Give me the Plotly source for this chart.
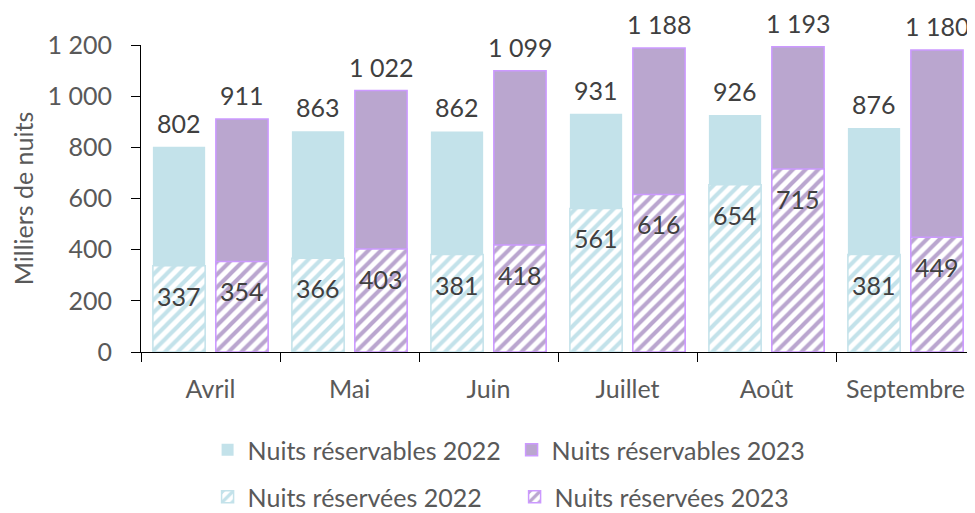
import plotly.graph_objects as go

months = ["Avril", "Mai", "Juin", "Juillet", "Août", "Septembre"]
reservables_2022 = [802, 863, 862, 931, 926, 876]
reservables_2023 = [911, 1022, 1099, 1188, 1193, 1180]
reservees_2022 = [337, 366, 381, 561, 654, 381]
reservees_2023 = [354, 403, 418, 616, 715, 449]
y_ticks = [0, 200, 400, 600, 800, 1000, 1200]
y_tick_labels = ["0", "200", "400", "600", "800", "1 000", "1 200"]

BLUE = "#C3E2EA"
PURPLE = "#BAA6CF"
PURPLE_LINE = "#CC99FF"
FONT = "Lato"
TXT = "#595959"

# The page body has an 8px margin, so the figure is drawn 8px smaller.
W, H = 967, 505


def fmt(v):
    return f"{v:,}".replace(",", " ")


fig = go.Figure()
fig.add_trace(go.Bar(x=months, y=reservables_2022, name="Nuits réservables 2022",
                     offsetgroup="a", marker=dict(color=BLUE, line=dict(width=0)),
                     legend="legend"))
fig.add_trace(go.Bar(x=months, y=reservables_2023, name="Nuits réservables 2023",
                     offsetgroup="b", marker=dict(color=PURPLE, line=dict(color=PURPLE_LINE, width=1.5)),
                     legend="legend"))
fig.add_trace(go.Bar(x=months, y=reservees_2022, name="Nuits réservées 2022",
                     offsetgroup="a",
                     marker=dict(color="white", line=dict(color=BLUE, width=1.5),
                                 pattern=dict(shape="/", fgcolor=BLUE, bgcolor="white",
                                              size=9, solidity=0.45, fillmode="replace")),
                     legend="legend2"))
fig.add_trace(go.Bar(x=months, y=reservees_2023, name="Nuits réservées 2023",
                     offsetgroup="b",
                     marker=dict(color="white", line=dict(color=PURPLE_LINE, width=1.5),
                                 pattern=dict(shape="/", fgcolor=PURPLE, bgcolor="white",
                                              size=9, solidity=0.45, fillmode="replace")),
                     legend="legend2"))

annotations = []
for series, offset in ((reservables_2022, -0.225), (reservables_2023, 0.225)):
    for i, v in enumerate(series):
        annotations.append(dict(x=i + offset, y=v, text=fmt(v), showarrow=False,
                                yshift=24,
                                font=dict(size=25, color="#404040", family=FONT)))
for series, offset in ((reservees_2022, -0.225), (reservees_2023, 0.225)):
    for i, v in enumerate(series):
        annotations.append(dict(x=i + offset, y=v, text=fmt(v), showarrow=False,
                                yshift=-30, font=dict(size=25, color="#404040", family=FONT)))

fig.update_layout(
    width=W, height=H,
    barmode="group", bargap=0.094, bargroupgap=0.17,
    plot_bgcolor="white", paper_bgcolor="white",
    margin=dict(l=133, r=0, t=37, b=161, autoexpand=False),
    font=dict(family=FONT, color=TXT, size=25),
    annotations=annotations,
    showlegend=True,
    legend=dict(orientation="h", xref="container", yref="container",
                x=0.2064, xanchor="left", y=1 - 442 / H, yanchor="middle",
                font=dict(size=25, color=TXT, family=FONT), traceorder="normal",
                entrywidth=259, itemwidth=30),
    legend2=dict(orientation="h", xref="container", yref="container",
                 x=0.2064, xanchor="left", y=1 - 489 / H, yanchor="middle",
                 font=dict(size=25, color=TXT, family=FONT), traceorder="normal",
                 entrywidth=262, itemwidth=30),
    xaxis=dict(showline=True, linecolor="black", linewidth=1, ticks="outside",
               tickson="boundaries", ticklen=9, tickcolor="black", automargin=False,
               ticklabelstandoff=15,
               tickfont=dict(size=25, color=TXT, family=FONT), showgrid=False),
    yaxis=dict(range=[0, 1200], tickvals=y_ticks, ticktext=y_tick_labels,
               showline=True, linecolor="black", linewidth=1, ticks="outside",
               ticklen=9, tickcolor="black", showgrid=False, zeroline=False,
               automargin=False, ticklabelstandoff=14,
               tickfont=dict(size=25, color=TXT, family=FONT),
               title=dict(text="Milliers de nuits", font=dict(size=25, color=TXT, family=FONT),
                          standoff=12)),
)

fig.write_html("out.html")
